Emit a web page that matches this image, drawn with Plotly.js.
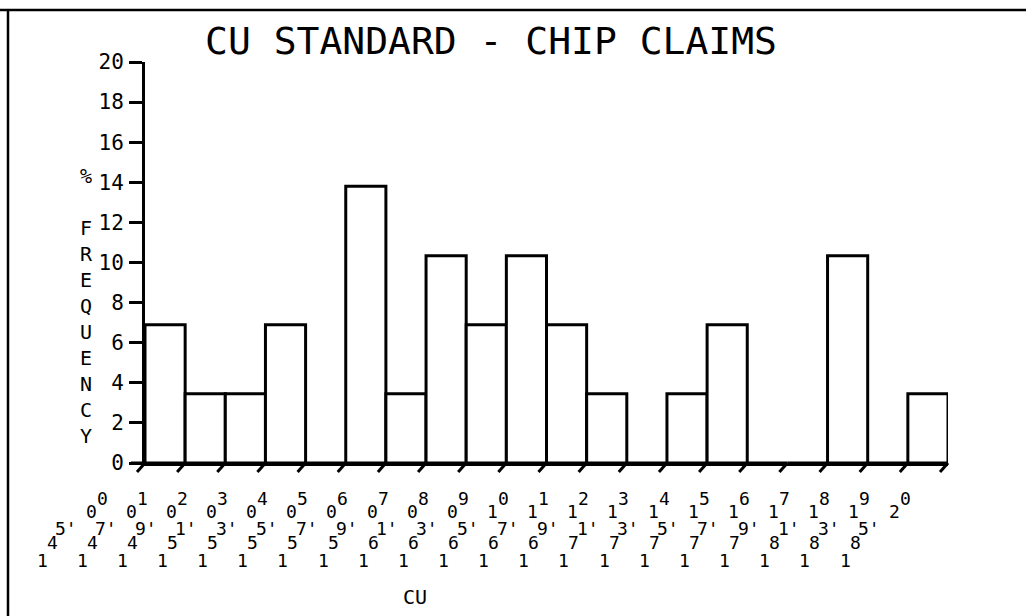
<!DOCTYPE html>
<html>
<head>
<meta charset="utf-8">
<script src="https://cdn.plot.ly/plotly-3.0.1.min.js"></script>
<style>
html,body{margin:0;padding:0;background:#fff;}
#chart{width:1026px;height:616px;}
</style>
</head>
<body>
<div id="chart"></div>
<script>
// ---- data ----
const titleText = 'CU STANDARD - CHIP CLAIMS';
const xAxisLabel = 'CU';
const yAxisLabel = ['%', '', 'F', 'R', 'E', 'Q', 'U', 'E', 'N', 'C', 'Y'];
// % frequency per class (29 samples)
const freqPct = [6.9, 3.45, 3.45, 6.9, 0, 13.8, 3.45, 10.34, 6.9, 10.34,
                 6.9, 3.45, 0, 3.45, 6.9, 0, 0, 10.34, 0, 3.45];
// class-boundary labels (upper and lower rows, as printed by the plotter)
const xUpperLabels = ['00','01','02','03','04','05','06','07','08','09','10',
                      '11','12','13','14','15','16','17','18','19','20'];
const xLowerLabels = ['145','147','149','151','153','155','157','159','161','163','165',
                      '167','169','171','173','175','177','179','181','183','185'];
const yTicks = [0, 2, 4, 6, 8, 10, 12, 14, 16, 18, 20];

// ---- layout constants (pixels) ----
const W = 1026, H = 616;
const L = 145, R = 948, T = 62, B = 463;
const pw = R - L, ph = B - T;
const font = 'DejaVu Sans Mono, monospace';
const px2paperX = p => (p - L) / pw;
const px2paperY = p => (B - p) / ph;
const nEdges = xUpperLabels.length;

const xPos = freqPct.map((_, i) => i + 0.5);

const trace = {
  type: 'bar',
  x: xPos,
  y: freqPct,
  width: 1,
  marker: {color: '#ffffff', line: {color: '#000000', width: 3}},
  hoverinfo: 'y'
};

const annotations = [];
const shapes = [];

xUpperLabels.forEach((up, i) => {
  const low = xLowerLabels[i];
  // plotter printed each boundary label as a rising staircase of characters
  const pieces = [
    {t: low[0], dx: -103, py: 560},
    {t: low[1], dx: -93, py: 542},
    {t: low[2] + "'", dx: -79, py: 528},
    {t: up[0], dx: -54, py: 511},
    {t: up[1], dx: -43, py: 498}
  ];
  pieces.forEach(p => {
    annotations.push({
      xref: 'x', yref: 'y', x: i, y: 0,
      xshift: p.dx, yshift: -(p.py - B),
      text: p.t, showarrow: false, borderpad: 0,
      xanchor: 'center', yanchor: 'middle',
      font: {family: font, size: 18, color: '#000'}
    });
  });
  // slanted tick mark below each class boundary
  shapes.push({
    type: 'line', xref: 'paper', yref: 'paper',
    xsizemode: 'pixel', xanchor: i / (nEdges - 1),
    ysizemode: 'pixel', yanchor: 0,
    x0: -8, y0: -9, x1: 0, y1: 0,
    line: {color: '#000', width: 3}
  });
});

// y axis title (stacked letters)
annotations.push({
  xref: 'paper', yref: 'paper',
  x: px2paperX(86), y: px2paperY(306),
  text: yAxisLabel.join('<br>'), showarrow: false,
  xanchor: 'center', yanchor: 'middle',
  font: {family: font, size: 20, color: '#000'}
});
// x axis title
annotations.push({
  xref: 'paper', yref: 'paper',
  x: px2paperX(415), y: px2paperY(597),
  text: xAxisLabel, showarrow: false,
  xanchor: 'center', yanchor: 'middle',
  font: {family: font, size: 20, color: '#000'}
});

// frame lines (top and left) and x-axis stub left of origin
shapes.push({type: 'line', xref: 'paper', yref: 'paper',
  x0: px2paperX(0), x1: px2paperX(W), y0: px2paperY(10), y1: px2paperY(10),
  line: {color: '#000', width: 2.5}});
shapes.push({type: 'line', xref: 'paper', yref: 'paper',
  x0: px2paperX(8), x1: px2paperX(8), y0: px2paperY(10), y1: px2paperY(H),
  line: {color: '#000', width: 2.5}});
shapes.push({type: 'line', xref: 'paper', yref: 'paper',
  x0: px2paperX(131), x1: 0, y0: 0, y1: 0,
  line: {color: '#000', width: 3}});

const layout = {
  width: W, height: H,
  margin: {l: L, r: W - R, t: T, b: H - B, pad: 0},
  paper_bgcolor: '#fff', plot_bgcolor: '#fff',
  showlegend: false,
  bargap: 0,
  title: {
    text: titleText,
    font: {family: font, size: 38, color: '#000'},
    x: 491 / W, xanchor: 'center',
    y: 1 - 41 / H, yanchor: 'middle'
  },
  xaxis: {
    range: [0, 20], showgrid: false, zeroline: false,
    showline: true, linecolor: '#000', linewidth: 3,
    showticklabels: false, ticks: '', fixedrange: true
  },
  yaxis: {
    range: [0, 20], tickvals: yTicks, ticktext: yTicks.map(String),
    showgrid: false, zeroline: false,
    showline: true, linecolor: '#000', linewidth: 3,
    ticks: 'outside', ticklen: 13, tickwidth: 3, tickcolor: '#000',
    ticklabelstandoff: 1,
    tickfont: {family: font, size: 21, color: '#000'}, fixedrange: true
  },
  shapes: shapes,
  annotations: annotations
};

Plotly.newPlot('chart', [trace], layout, {displayModeBar: false, staticPlot: true});
</script>
</body>
</html>
